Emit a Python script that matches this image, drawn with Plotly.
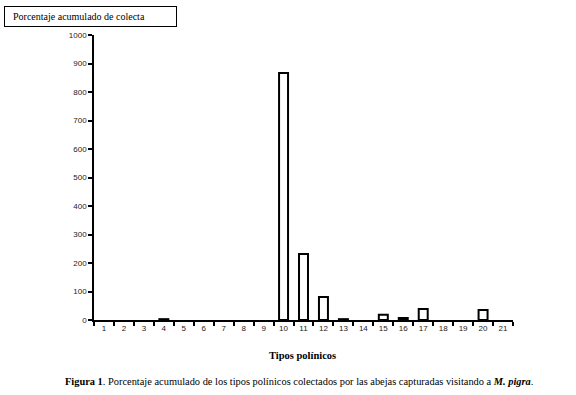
import plotly.graph_objects as go

categories = [str(i) for i in range(1, 22)]
values = [0, 0, 0, 3, 0, 0, 0, 0, 0, 867, 232, 81, 3, 0, 18, 7, 39, 0, 0, 35, 0]
y_ticks = list(range(0, 1001, 100))

L, R, T, B = 94, 513, 35, 320
W, H = 576, 395

def px_x(px):
    return (px - L) / (R - L)

def px_y(py):
    return (B - py) / (B - T)

shown = [v if v > 0 else None for v in values]

fig = go.Figure()
fig.add_trace(go.Bar(
    x=categories, y=shown, width=0.45,
    marker=dict(color="white", line=dict(color="black", width=2)),
))

fig.update_layout(
    width=W, height=H,
    margin=dict(l=L, r=W - R, t=T, b=H - B, pad=0),
    paper_bgcolor="white", plot_bgcolor="white",
    showlegend=False, bargap=0.5,
)
fig.update_xaxes(
    type="category", categoryarray=categories, categoryorder="array",
    tickson="boundaries", ticks="outside", ticklen=4,
    tickcolor="black", tickwidth=1.5, showline=True, linecolor="black", linewidth=1.5,
    showgrid=False, zeroline=False,
    tickfont=dict(family="Liberation Sans, Arial", size=8, color="#222"),
)
fig.update_yaxes(
    range=[0, 1000], tickvals=y_ticks, ticks="outside", ticklen=4,
    tickcolor="black", tickwidth=1.5, showline=True, linecolor="black", linewidth=1.5,
    showgrid=False, zeroline=False,
    tickfont=dict(family="Liberation Sans, Arial", size=8, color="#222"),
)

serif = "Liberation Serif, Times New Roman, serif"
fig.add_annotation(
    text="&nbsp;&nbsp;Porcentaje acumulado de colecta", xref="paper", yref="paper",
    x=px_x(4), y=px_y(6), xanchor="left", yanchor="top", showarrow=False,
    font=dict(family=serif, size=10, color="black"),
    bordercolor="black", borderwidth=1, borderpad=3, bgcolor="white",
    width=165, height=13, align="left",
)
fig.add_annotation(
    text="<b>Tipos polínicos</b>", xref="paper", yref="paper",
    x=px_x(302), y=px_y(355), xanchor="center", yanchor="middle", showarrow=False,
    font=dict(family=serif, size=10.5, color="black"),
)
fig.add_annotation(
    text="<b>Figura 1</b>. Porcentaje acumulado de los tipos polínicos colectados por las abejas capturadas visitando a <b><i>M. pigra</i></b>.",
    xref="paper", yref="paper",
    x=px_x(299), y=px_y(381), xanchor="center", yanchor="middle", showarrow=False,
    font=dict(family=serif, size=10.4, color="black"),
)

fig.write_html("out.html", config={"displayModeBar": False},
               post_script="document.body.style.margin='0';")
